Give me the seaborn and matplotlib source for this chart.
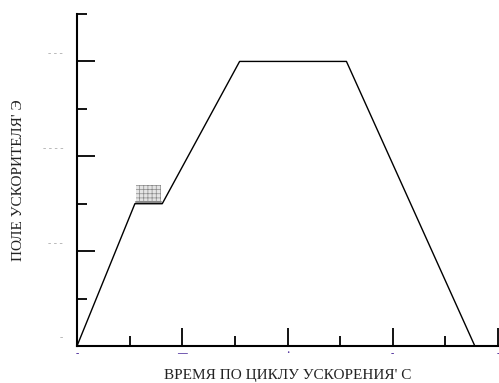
import matplotlib
matplotlib.use("Agg")
import matplotlib.pyplot as plt
import matplotlib.transforms as mtransforms
from matplotlib.patches import Rectangle
import seaborn as sns
import pandas as pd

sns.set_theme(style="white")
plt.rcParams['font.family'] = ['Liberation Serif', 'DejaVu Serif']
plt.rcParams['hatch.linewidth'] = 0.5

# data
time = [0.0, 0.55, 0.81, 1.545, 2.56, 3.78]
field = [0.0, 1.5, 1.5, 3.0, 3.0, 0.0]
box_x = [0.56, 0.80]
box_y = [1.52, 1.70]
x_major = [0, 1, 2, 3, 4]
x_labels = ["-", "—", "·", "-", "-"]
y_major = [0, 1, 2, 3]
y_labels = ["-", "- - -", "- - - -", "- - -"]

df = pd.DataFrame({"t": time, "b": field})

fig = plt.figure(figsize=(4.99, 3.83), dpi=100)
ax = fig.add_axes([77/499, 37/383, 421/499, 332/383])
sns.lineplot(data=df, x="t", y="b", sort=False, color="black", linewidth=1.0, ax=ax)

ax.add_patch(Rectangle((box_x[0], box_y[0]), box_x[1]-box_x[0], box_y[1]-box_y[0],
                       facecolor="#e4e4e4", edgecolor="#8a8a8a", linewidth=0,
                       hatch="++++", zorder=1))
ax.plot(box_x, [box_y[0], box_y[0]], color="#888888", linewidth=1.5, zorder=2)

ax.set_xlim(0, 4)
ax.set_ylim(0, 3.5)
for s in ["top", "right"]:
    ax.spines[s].set_visible(False)
for s in ["left", "bottom"]:
    ax.spines[s].set_color("black")
    ax.spines[s].set_linewidth(1.5)

ax.set_xticks(x_major)
ax.set_xticklabels(x_labels, color="#4b2a9a", fontsize=7, fontweight="bold")
ax.set_xticks([0.5, 1.5, 2.5, 3.5], minor=True)
ax.set_yticks(y_major)
ax.set_yticklabels(y_labels, color="#aaaaaa", fontsize=7)
ax.set_yticks([0.5, 1.5, 2.5, 3.5], minor=True)
ax.tick_params(axis="both", which="both", bottom=True, left=True, top=False, right=False)
ax.tick_params(axis="both", which="major", direction="in", length=13, width=1.3, color="black")
ax.tick_params(axis="both", which="minor", direction="in", length=7, width=1.3, color="black")
ax.tick_params(axis="x", which="major", pad=2)
ax.tick_params(axis="y", which="major", pad=10)
off = mtransforms.ScaledTranslation(0, 9/100, fig.dpi_scale_trans)
for lab in ax.get_yticklabels():
    lab.set_transform(lab.get_transform() + off)

ax.set_xlabel("ВРЕМЯ ПО ЦИКЛУ УСКОРЕНИЯ' С", fontsize=11, color="#222222", va="center")
ax.set_ylabel("ПОЛЕ УСКОРИТЕЛЯ' Э", fontsize=11, color="#222222", va="center")
ax.xaxis.set_label_coords(211/421, -29/332)
ax.yaxis.set_label_coords(-59/421, (346-180)/332)

fig.savefig("out.png", dpi=100)
